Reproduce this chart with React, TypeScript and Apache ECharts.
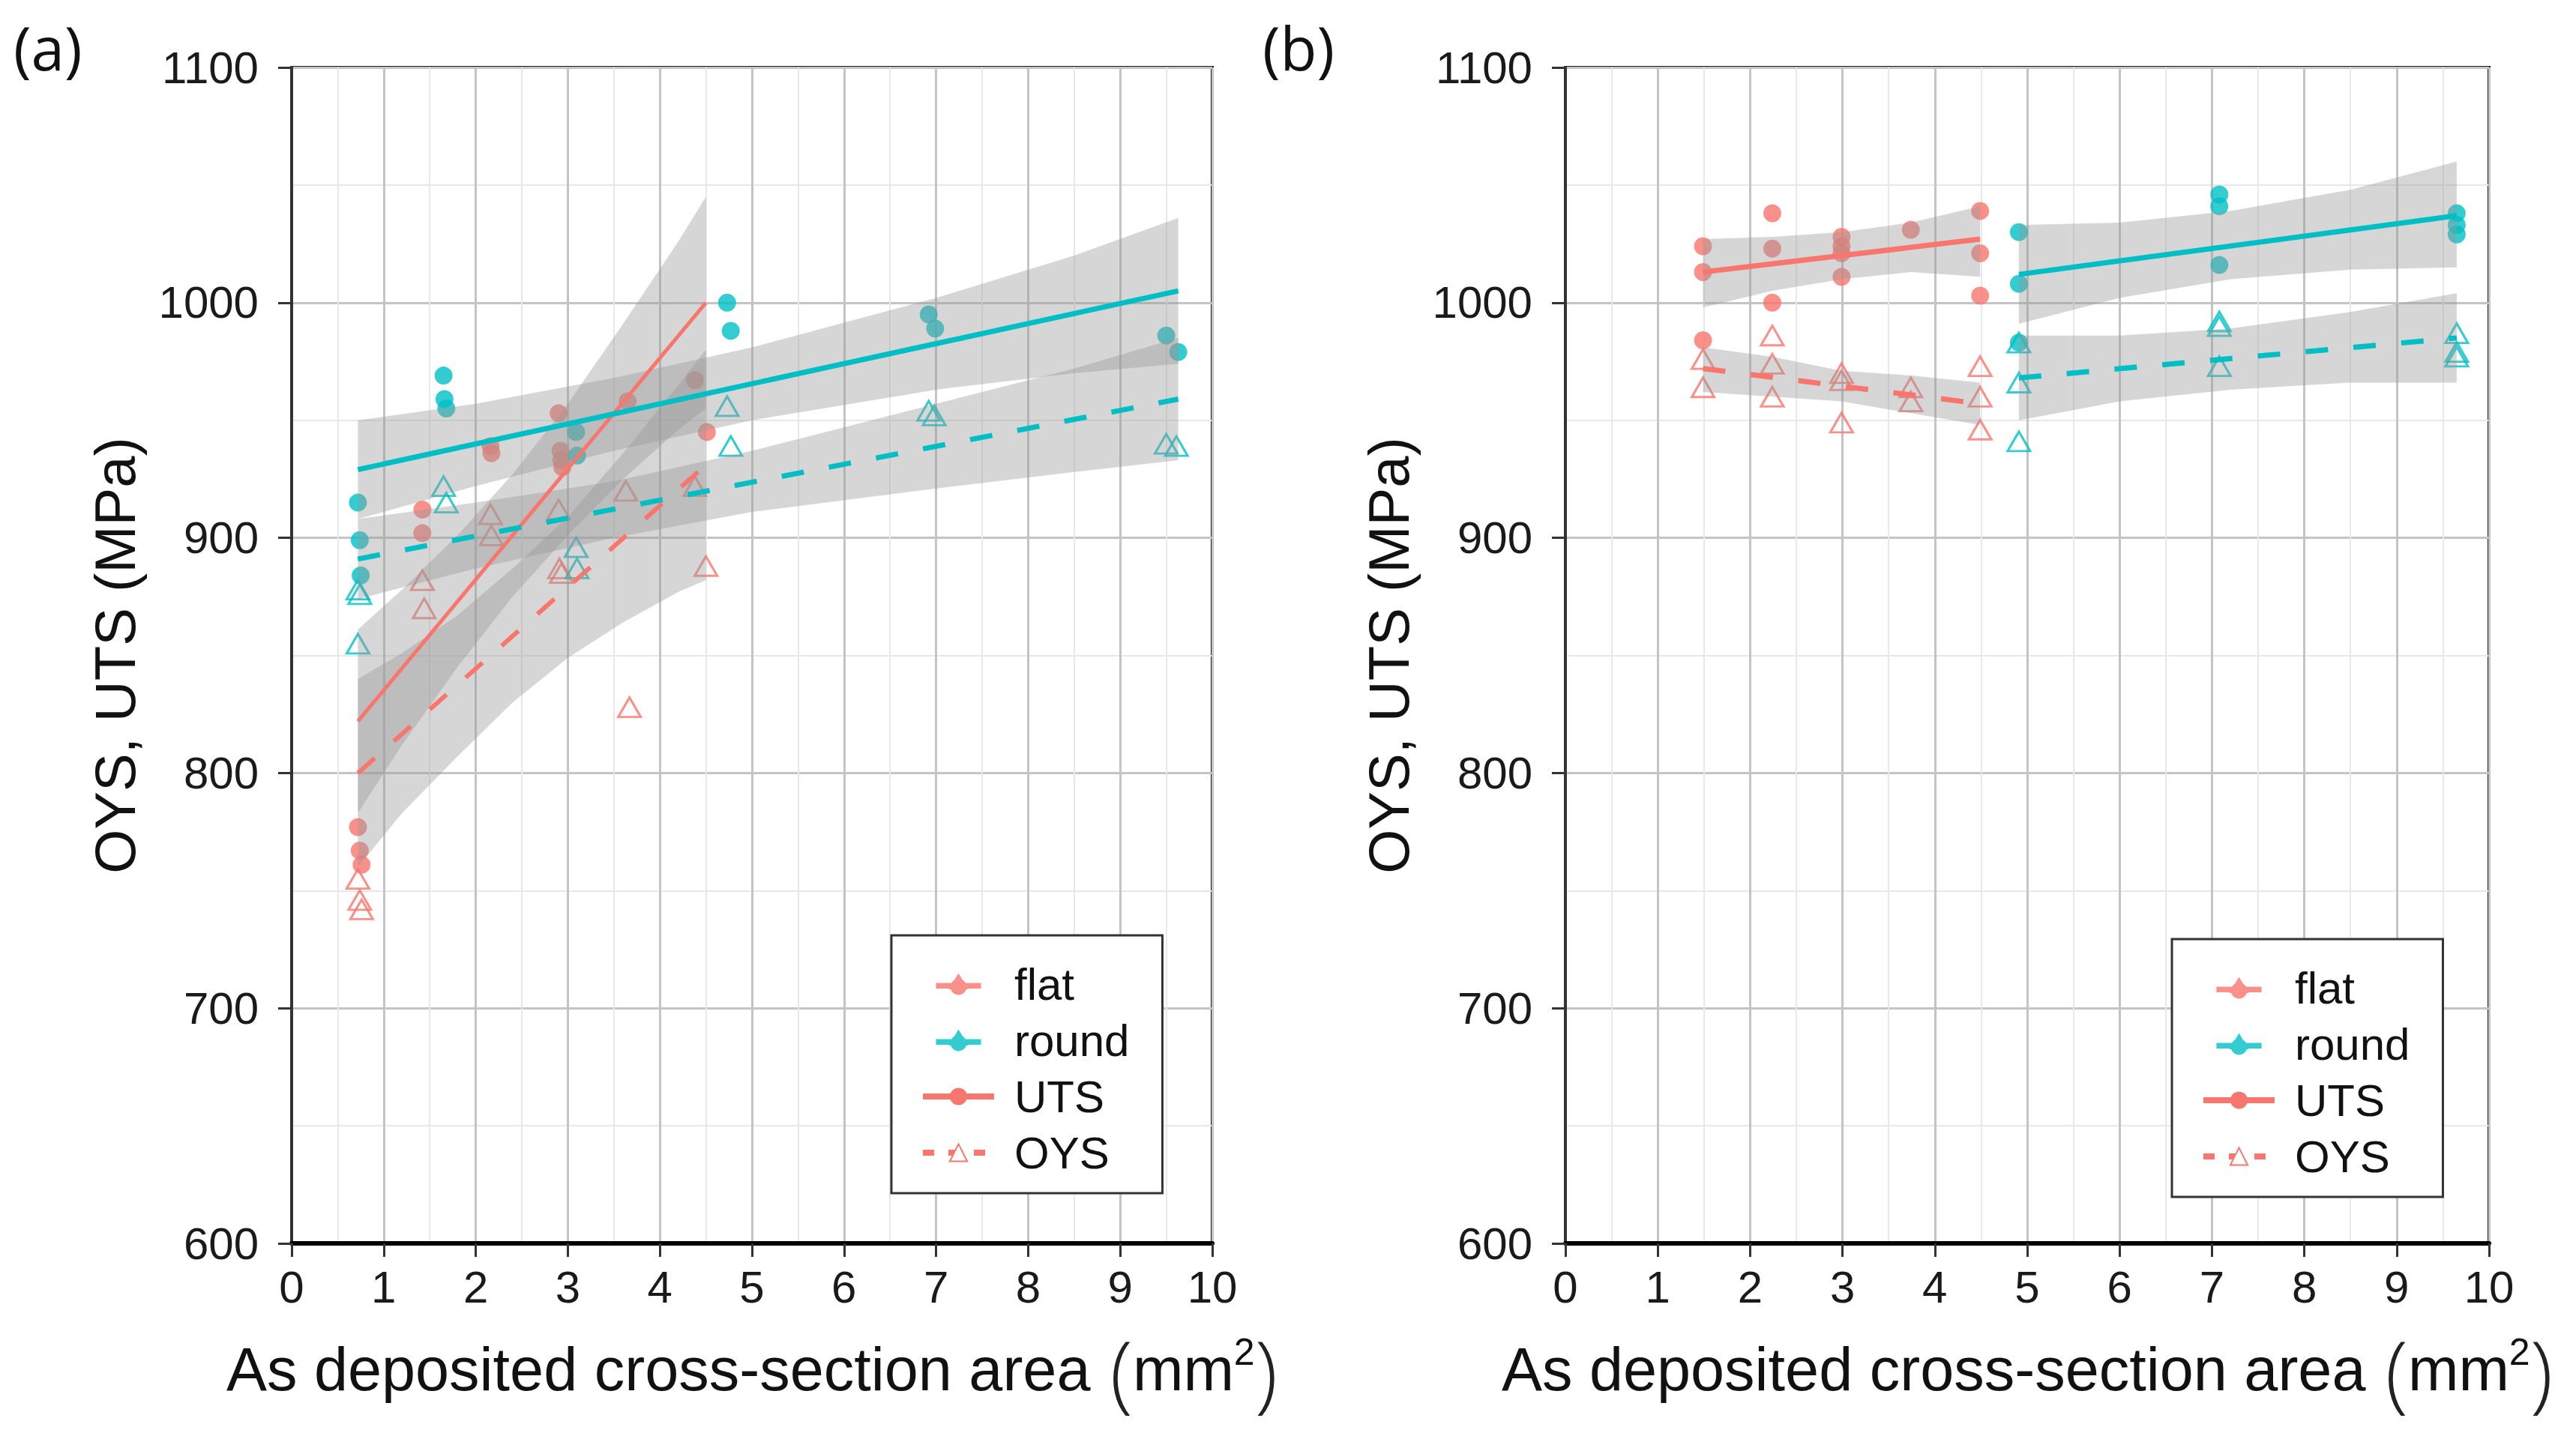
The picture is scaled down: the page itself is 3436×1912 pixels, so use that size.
import React, { useEffect, useRef } from 'react';
import * as echarts from 'echarts';

const RED = '#F8766D';
const TEAL = '#00BFC4';
const BAND_FILL = 'rgba(153, 153, 153, 0.4)';
const FONT = '"Liberation Sans", Arial, Helvetica, sans-serif';

// ---- panel (a): measured points [area mm2, MPa] ----
const flatUtsA = [
    [0.72, 777], [0.74, 767], [0.76, 761], [1.42, 912], [1.42, 902], [2.16, 939], [2.17, 936],
    [2.9, 953], [2.92, 937], [2.93, 933], [2.94, 930], [3.65, 958], [4.38, 967], [4.51, 945],
];
const flatOysA = [
    [0.72, 755], [0.74, 746], [0.76, 742], [1.42, 882], [1.44, 870], [2.16, 910], [2.17, 901],
    [2.9, 912], [2.91, 887], [2.93, 885], [3.63, 920], [3.67, 828], [4.38, 922], [4.5, 888],
];
const roundUtsA = [
    [0.72, 915], [0.74, 899], [0.75, 884], [1.65, 969], [1.66, 959], [1.68, 955], [3.09, 945],
    [3.1, 935], [4.73, 1000], [4.77, 988], [6.92, 995], [6.99, 989], [9.5, 986], [9.63, 979],
];
const roundOysA = [
    [0.72, 878], [0.74, 876], [0.72, 855], [1.65, 922], [1.68, 915], [3.09, 896], [3.1, 887],
    [4.73, 956], [4.77, 939], [6.92, 954], [6.98, 952], [9.5, 940], [9.61, 939],
];

// fitted lines (end points) for panel (a)
const flatUtsFitA = [[0.72, 822], [4.5, 1000]];
const flatOysFitA = [[0.72, 800], [4.5, 931]];
const roundUtsFitA = [[0.72, 929], [9.63, 1005]];
const roundOysFitA = [[0.72, 891], [9.63, 959]];

// confidence bands [x, lower, upper] for panel (a)
const flatUtsBandA = [
    [0.72, 783, 861], [1.2, 812, 878], [1.8, 845, 901], [2.4, 875, 927],
    [3.0, 901, 957], [3.6, 925, 991], [4.2, 946, 1026], [4.5, 955, 1045],
];
const flatOysBandA = [
    [0.72, 760, 840], [1.2, 783, 851], [1.8, 807, 867], [2.4, 830, 887],
    [3.0, 849, 909], [3.6, 864, 936], [4.2, 877, 965], [4.5, 882, 980],
];
const roundUtsBandA = [
    [0.72, 908, 950], [2, 922, 957], [3.5, 937, 968], [5, 950, 981],
    [7, 963, 1002], [8.5, 970, 1020], [9.63, 974, 1036],
];
const roundOysBandA = [
    [0.72, 874, 908], [2, 887, 915], [3.5, 900, 924], [5, 911, 937],
    [7, 921, 957], [8.5, 928, 972], [9.63, 933, 985],
];

// ---- panel (b) ----
const flatUtsB = [
    [1.49, 1024], [1.49, 1013], [1.49, 984], [2.24, 1038], [2.24, 1023], [2.24, 1000],
    [2.99, 1028], [2.99, 1024], [2.99, 1021], [2.99, 1011], [3.74, 1031],
    [4.49, 1039], [4.49, 1021], [4.49, 1003],
];
const flatOysB = [
    [1.49, 976], [1.49, 964], [2.24, 986], [2.24, 974], [2.24, 960], [2.99, 970], [2.99, 967],
    [2.99, 949], [3.74, 964], [3.74, 958], [4.49, 973], [4.49, 960], [4.49, 946],
];
const roundUtsB = [
    [4.91, 1030], [4.91, 1008], [4.91, 983], [7.08, 1046], [7.08, 1041], [7.08, 1016],
    [9.65, 1038], [9.65, 1033], [9.65, 1029],
];
const roundOysB = [
    [4.91, 983], [4.91, 966], [4.91, 941], [7.08, 992], [7.08, 990], [7.08, 973],
    [9.65, 987], [9.65, 979], [9.65, 977],
];

const flatUtsFitB = [[1.49, 1013], [4.49, 1027]];
const flatOysFitB = [[1.49, 972], [4.49, 957]];
const roundUtsFitB = [[4.91, 1012], [9.65, 1037]];
const roundOysFitB = [[4.91, 968], [9.65, 985]];

const flatUtsBandB = [
    [1.49, 998, 1027], [2.24, 1005, 1028], [2.99, 1010, 1030], [3.74, 1013, 1034], [4.49, 1011, 1041],
];
const flatOysBandB = [
    [1.49, 962, 981], [2.24, 960, 977], [2.99, 958, 971], [3.74, 953, 969], [4.49, 948, 966],
];
const roundUtsBandB = [
    [4.91, 991, 1033], [6, 1002, 1034], [7.2, 1010, 1039], [8.5, 1014, 1048], [9.65, 1015, 1060],
];
const roundOysBandB = [
    [4.91, 950, 986], [6, 958, 986], [7.2, 963, 989], [8.5, 966, 996], [9.65, 966, 1004],
];

const legendNames = ['flat', 'round', 'UTS', 'OYS'];

// ggplot's combined key: short bar, triangle and dot (same winding so they merge)
const SHAPE_ICON =
    'path://M0,12 L56,12 L56,19 L0,19 Z M16,20 L28,0 L40,20 Z M18,17 A10,10 0 1,1 38,17 A10,10 0 1,1 18,17 Z';

const points = (id: string, data: number[][], panel: number, kind: 'dot' | 'tri', color: string) => ({
    type: 'scatter',
    id,
    data,
    xAxisIndex: panel,
    yAxisIndex: panel,
    z: 2,
    silent: true,
    symbol: kind === 'dot' ? 'circle' : 'triangle',
    symbolSize: kind === 'dot' ? 24 : [30, 26],
    itemStyle:
        kind === 'dot'
            ? { color }
            : { color: 'rgba(0,0,0,0)', borderColor: color, borderWidth: 3 },
});

const band = (id: string, rows: number[][], panel: number) => ({
    type: 'custom',
    id,
    data: rows,
    xAxisIndex: panel,
    yAxisIndex: panel,
    z: 3,
    silent: true,
    encode: { x: 0, y: [1, 2] },
    renderItem: (params: any, api: any) => {
        if (params.dataIndex !== 0) return null;
        const upper = rows.map(r => api.coord([r[0], r[2]]));
        const lower = rows
            .slice()
            .reverse()
            .map(r => api.coord([r[0], r[1]]));
        return {
            type: 'polygon',
            shape: { points: upper.concat(lower) },
            style: { fill: BAND_FILL },
        };
    },
});

const fit = (id: string, data: number[][], panel: number, color: string, dashed: boolean, width: number) => ({
    type: 'line',
    id,
    data,
    xAxisIndex: panel,
    yAxisIndex: panel,
    z: 4,
    silent: true,
    symbol: 'none',
    lineStyle: { color, width, type: dashed ? [30, 34] : 'solid', cap: 'butt' },
});

const plainNumber = (v: number) => String(v);

const xAxisFor = (panel: number) => ({
    type: 'value',
    gridIndex: panel,
    min: 0,
    max: 10,
    interval: 1,
    name: '{t|As deposited cross-section area}{pl|(}{t|mm}{s|2}{p|)}',
    nameLocation: 'middle',
    nameGap: 112,
    nameTextStyle: {
        rich: {
            t: { fontSize: 81, fontFamily: FONT, color: '#111' },
            pl: {
                fontSize: 112,
                fontFamily: '"Open Sans", sans-serif',
                fontWeight: 200,
                color: '#222',
                padding: [0, 0, 0, 26],
            },
            p: { fontSize: 112, fontFamily: '"Open Sans", sans-serif', fontWeight: 200, color: '#222' },
            s: { fontSize: 50, fontFamily: FONT, color: '#111', verticalAlign: 'top', padding: [8, 0, 0, 0] },
        },
    },
    axisLine: { show: true, onZero: false, lineStyle: { color: '#000', width: 6 } },
    axisTick: { show: true, length: 18, lineStyle: { color: '#333', width: 3 } },
    axisLabel: { fontSize: 60, color: '#1a1a1a', margin: 28, fontFamily: FONT, formatter: plainNumber },
    splitLine: { show: true, lineStyle: { color: '#c4c4c4', width: 3 } },
    minorTick: { show: false, splitNumber: 2 },
    minorSplitLine: { show: true, lineStyle: { color: '#e8e8e8', width: 2 } },
});

const yAxisFor = (panel: number) => ({
    type: 'value',
    gridIndex: panel,
    min: 600,
    max: 1100,
    interval: 100,
    name: 'OYS, UTS (MPa)',
    nameLocation: 'middle',
    nameRotate: 90,
    nameGap: 198,
    nameTextStyle: { fontSize: 76, fontFamily: FONT, color: '#111' },
    axisLine: { show: true, onZero: false, lineStyle: { color: '#333', width: 4 } },
    axisTick: { show: true, length: 18, lineStyle: { color: '#333', width: 3 } },
    axisLabel: { fontSize: 60, color: '#1a1a1a', margin: 44, fontFamily: FONT, formatter: plainNumber },
    splitLine: { show: true, lineStyle: { color: '#c4c4c4', width: 3 } },
    minorTick: { show: false, splitNumber: 2 },
    minorSplitLine: { show: true, lineStyle: { color: '#e8e8e8', width: 2 } },
});

const legendFor = (left: number, top: number) => ({
    orient: 'vertical',
    left,
    top,
    selectedMode: false,
    data: [
        { name: 'flat', icon: SHAPE_ICON },
        { name: 'round', icon: SHAPE_ICON },
        'UTS',
        'OYS',
    ],
    itemWidth: 95,
    itemHeight: 29,
    itemGap: 15,
    padding: [35, 44, 24, 38],
    borderColor: '#333',
    borderWidth: 3,
    backgroundColor: '#fff',
    lineStyle: { width: 8 },
    textStyle: { fontSize: 60, lineHeight: 60, color: '#111', fontFamily: FONT, padding: [0, 0, 0, 22] },
});

const App: React.FC = () => {
    const chartRef = useRef<HTMLDivElement>(null);

    useEffect(() => {
        const chart = echarts.init(chartRef.current!, null, { renderer: 'svg' });

        const options: any = {
            animation: false,
            backgroundColor: '#fff',
            title: [
                {
                    text: '(a)',
                    left: 18,
                    top: 22,
                    padding: 0,
                    textStyle: { fontSize: 80, fontWeight: 'normal', fontFamily: '"Open Sans", sans-serif', color: '#111' },
                },
                {
                    text: '(b)',
                    left: 1684,
                    top: 22,
                    padding: 0,
                    textStyle: { fontSize: 80, fontWeight: 'normal', fontFamily: '"Open Sans", sans-serif', color: '#111' },
                },
            ],
            grid: [
                { left: 389, top: 90, width: 1228, height: 1569, show: true, borderColor: '#1a1a1a', borderWidth: 4 },
                { left: 2088, top: 90, width: 1232, height: 1569, show: true, borderColor: '#1a1a1a', borderWidth: 4 },
            ],
            xAxis: [xAxisFor(0), xAxisFor(1)],
            yAxis: [yAxisFor(0), yAxisFor(1)],
            legend: [legendFor(1189, 1248), legendFor(2897, 1253)],
            series: [
                // legend-only entries
                { type: 'scatter', name: legendNames[0], data: [], itemStyle: { color: RED } },
                { type: 'scatter', name: legendNames[1], data: [], itemStyle: { color: TEAL } },
                {
                    type: 'line',
                    name: legendNames[2],
                    data: [],
                    symbol: 'circle',
                    itemStyle: { color: RED },
                    lineStyle: { color: RED, width: 8 },
                },
                {
                    type: 'line',
                    name: legendNames[3],
                    data: [],
                    symbol: 'emptyTriangle',
                    itemStyle: { color: RED, borderColor: RED, borderWidth: 2 },
                    lineStyle: { color: RED, width: 8, type: [15, 19] },
                },

                points('flatUtsA', flatUtsA, 0, 'dot', RED),
                points('flatOysA', flatOysA, 0, 'tri', RED),
                points('roundUtsA', roundUtsA, 0, 'dot', TEAL),
                points('roundOysA', roundOysA, 0, 'tri', TEAL),
                band('flatUtsBandA', flatUtsBandA, 0),
                band('flatOysBandA', flatOysBandA, 0),
                band('roundUtsBandA', roundUtsBandA, 0),
                band('roundOysBandA', roundOysBandA, 0),
                fit('flatUtsFitA', flatUtsFitA, 0, RED, false, 5),
                fit('flatOysFitA', flatOysFitA, 0, RED, true, 6),
                fit('roundUtsFitA', roundUtsFitA, 0, TEAL, false, 7),
                fit('roundOysFitA', roundOysFitA, 0, TEAL, true, 7),

                points('flatUtsB', flatUtsB, 1, 'dot', RED),
                points('flatOysB', flatOysB, 1, 'tri', RED),
                points('roundUtsB', roundUtsB, 1, 'dot', TEAL),
                points('roundOysB', roundOysB, 1, 'tri', TEAL),
                band('flatUtsBandB', flatUtsBandB, 1),
                band('flatOysBandB', flatOysBandB, 1),
                band('roundUtsBandB', roundUtsBandB, 1),
                band('roundOysBandB', roundOysBandB, 1),
                fit('flatUtsFitB', flatUtsFitB, 1, RED, false, 7),
                fit('flatOysFitB', flatOysFitB, 1, RED, true, 7),
                fit('roundUtsFitB', roundUtsFitB, 1, TEAL, false, 7),
                fit('roundOysFitB', roundOysFitB, 1, TEAL, true, 7),
            ],
        };

        chart.setOption(options);
        return () => {
            chart.dispose();
        };
    }, []);

    return (
        <div
            ref={chartRef}
            style={{ position: 'absolute', left: 0, top: 0, width: 3436, height: 1912, background: '#fff' }}
        />
    );
};

export default App;
